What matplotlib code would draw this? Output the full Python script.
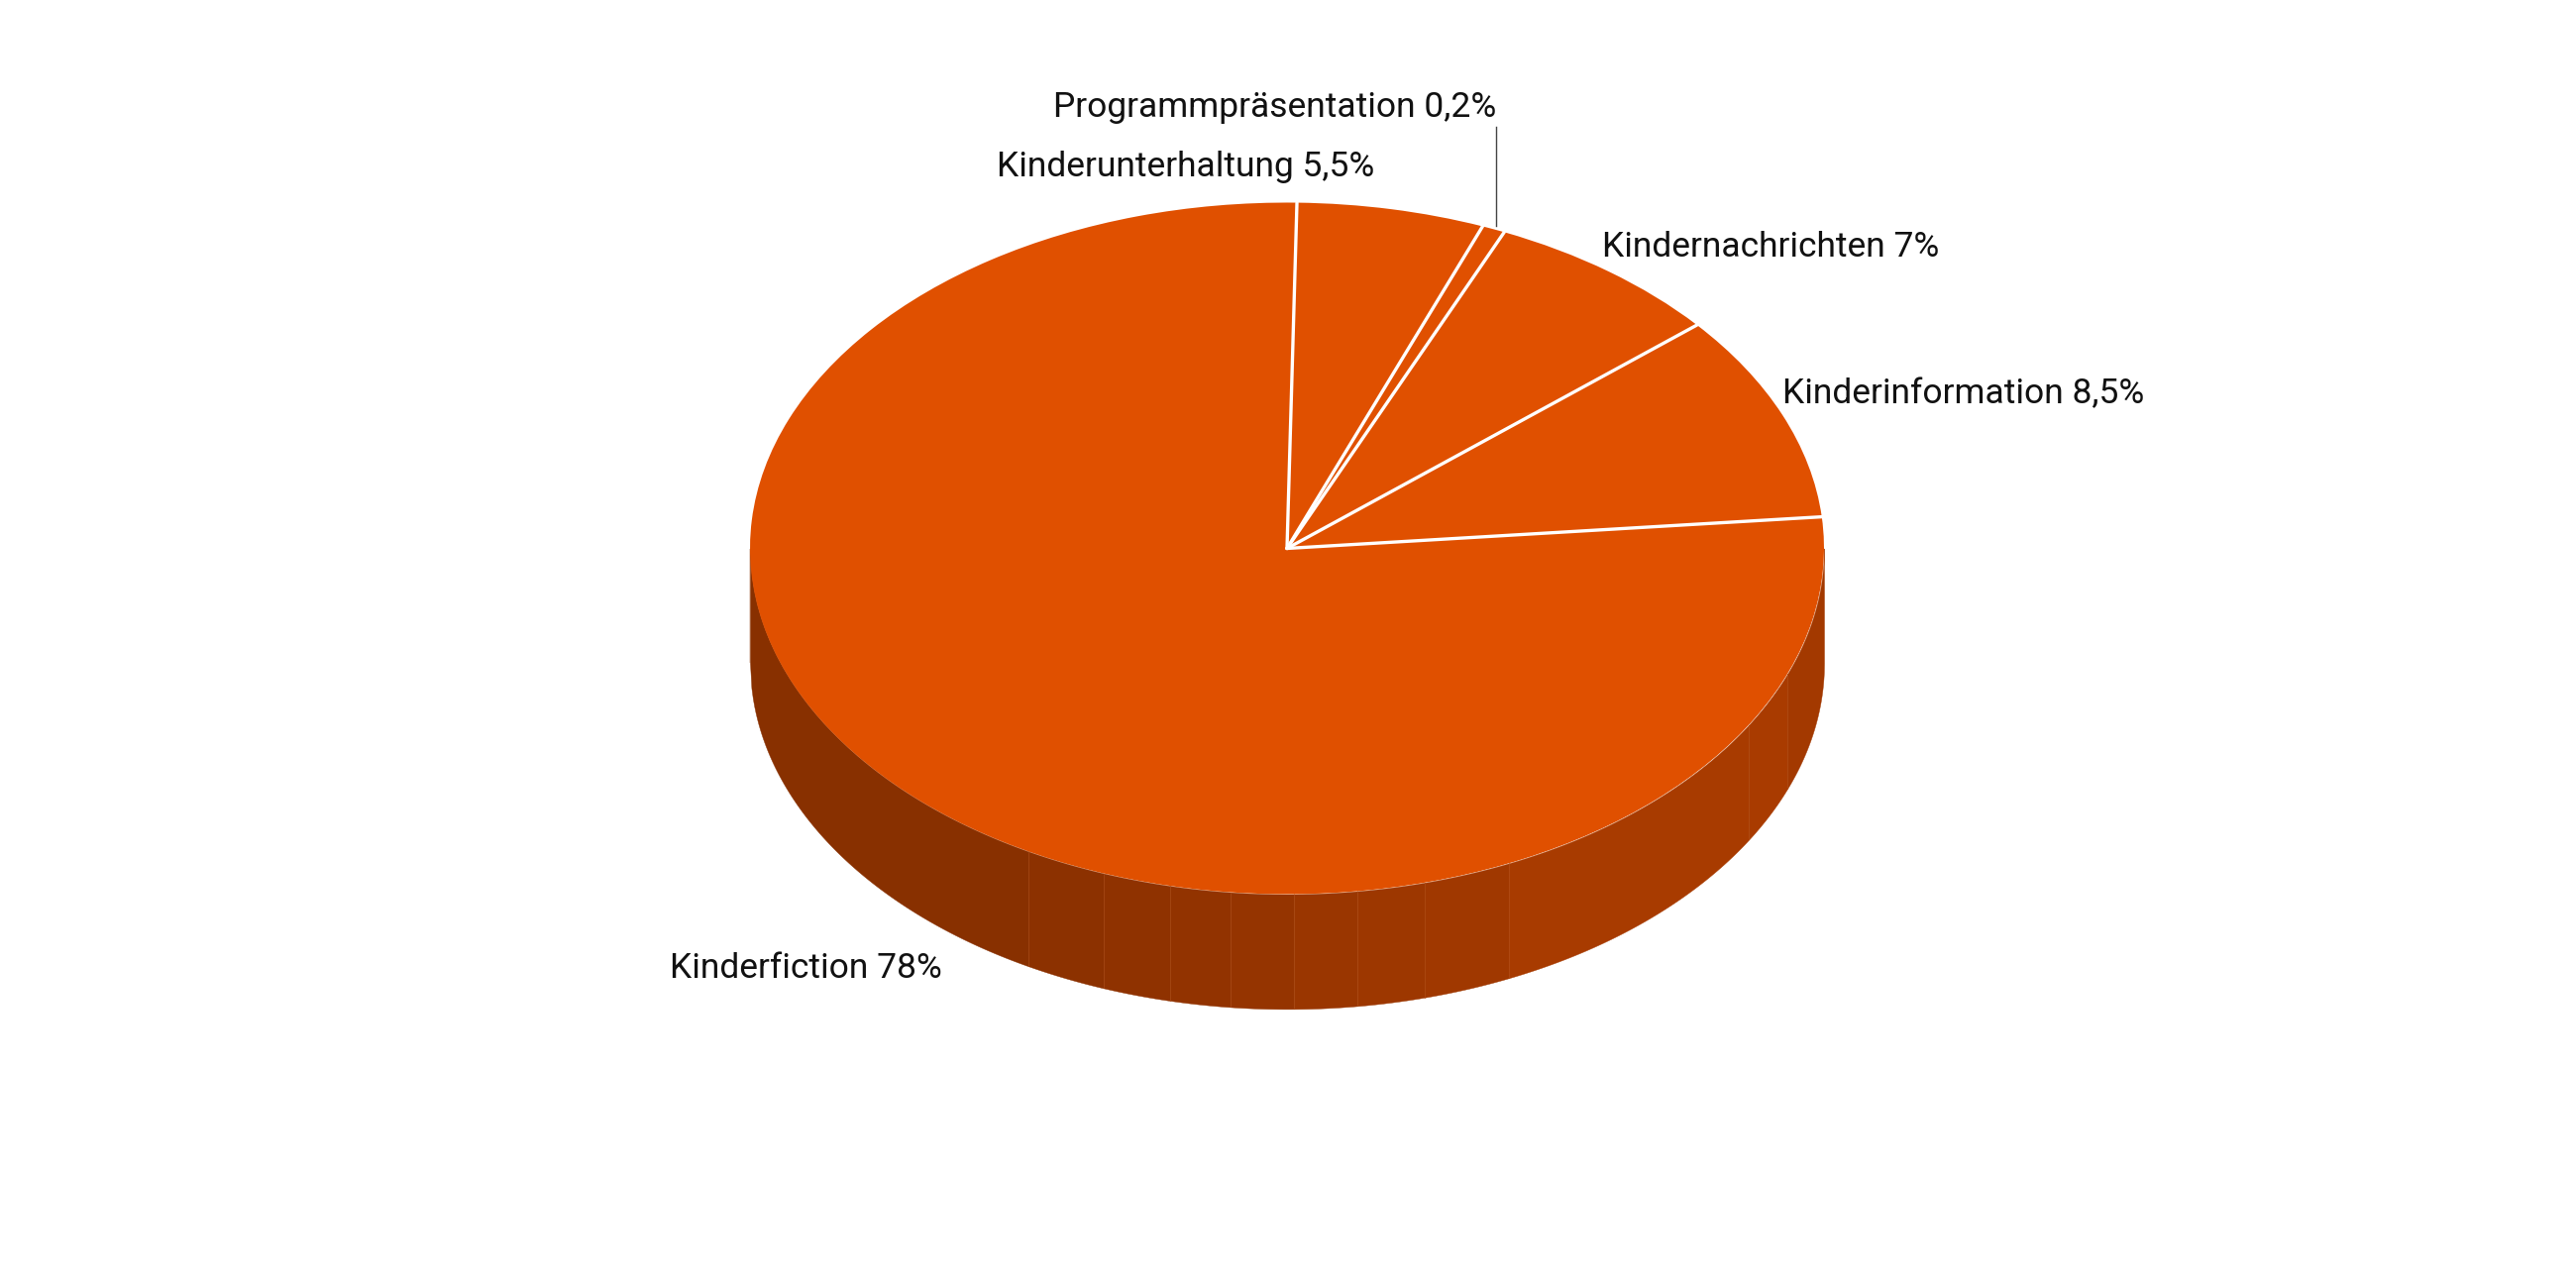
import numpy as np
import matplotlib
matplotlib.use("Agg")
import matplotlib.pyplot as plt

# labels and the shares printed next to them
labels = ["Kinderunterhaltung 5,5%", "Programmpräsentation 0,2%", "Kindernachrichten 7%",
          "Kinderinformation 8,5%", "Kinderfiction 78%"]
# the slices as drawn in the picture (degrees), they are not exactly the printed shares
drawn_deg = [20.3, 2.5, 25.9, 35.0, 276.3]
first_edge_deg = 88.94  # clockwise from here

# side wall pieces, left to right, x in units of the pie radius
side_x = [-1, -0.482, -0.341, -0.218, -0.105, 0.013, 0.131, 0.256, 0.413, 0.860, 0.932, 1]
side_colors = ["#883000", "#8C3100", "#8F3200", "#923300", "#953400", "#9A3600",
               "#9D3700", "#A03800", "#A83B00", "#A93B00", "#A33900"]
top_color = "#E05000"
depth = 0.332

plt.rcParams["font.family"] = ["Roboto", "DejaVu Sans"]

W, H = 2600, 1300
cx, cy, rx, ry = 1299, 553.5, 542, 349

fig = plt.figure(figsize=(W / 100, H / 100), dpi=100)
ax = fig.add_axes([0, 0, 1, 1])

# side wall
for i in range(len(side_colors)):
    xs = np.linspace(side_x[i], side_x[i + 1], 200)
    top = -np.sqrt(np.clip(1 - xs ** 2, 0, 1))
    ax.fill_between(xs, top, top - depth, color=side_colors[i], linewidth=0.3, zorder=1)
for x in side_x[1:-1]:
    y = -np.sqrt(1 - x ** 2)
    ax.plot([x, x], [y, y - depth], color="#B04A10", lw=0.5, alpha=0.6, zorder=1.5)
# straight bit of the wall at the far left and right ends
ax.fill_between([-1, -0.9995], [0, 0], [-depth, -depth], color=side_colors[0], linewidth=0.3, zorder=1)

wedges, _ = ax.pie(drawn_deg, startangle=first_edge_deg, counterclock=False,
                   colors=[top_color] * len(drawn_deg), wedgeprops={"linewidth": 0})
for w in wedges:
    w.set_zorder(2)

edges = first_edge_deg - np.cumsum([0] + drawn_deg[:-1])
for a in edges:
    ax.plot([0, np.cos(np.radians(a))], [0, np.sin(np.radians(a))], color="white",
            lw=2.4, solid_capstyle="round", zorder=3)

ax.set_aspect("auto")
ax.set_xlim(-cx / rx, (W - cx) / rx)
ax.set_ylim((cy - H) / ry, cy / ry)
ax.axis("off")


def px(x, y):
    return x / W, 1 - y / H


text_pos = [(1006, 178), (1063, 118), (1617, 259), (1799, 407), (676.5, 987)]
for lab, (x, y) in zip(labels, text_pos):
    fx, fy = px(x, y)
    fig.text(fx, fy, lab, fontsize=25.5, color="#111111", ha="left", va="baseline")

# leader line of the small slice
x0, y0 = px(1510, 128)
x1, y1 = px(1510, 228)
fig.add_artist(plt.Line2D([x0, x1], [y0, y1], color="#444444", lw=1.0))

fig.savefig("out.png", dpi=100, facecolor="white")
